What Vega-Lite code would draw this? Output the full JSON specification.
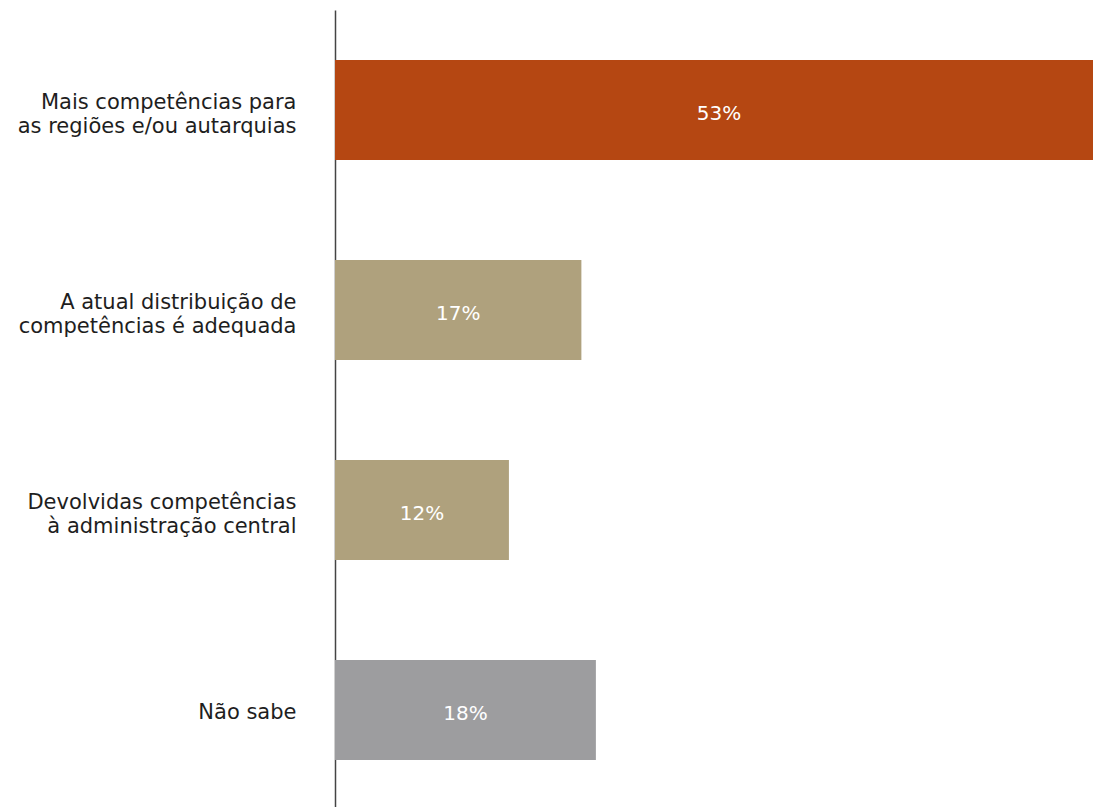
{
  "$schema": "https://vega.github.io/schema/vega-lite/v6.json",
  "autosize": "none",
  "padding": {"left": 335, "top": 10, "right": 0, "bottom": 0},
  "width": 758,
  "height": 800,
  "background": "white",
  "config": {"view": {"stroke": null}, "font": "DejaVu Sans"},
  "data": {
    "values": [
      {"cat": "Mais competências para|as regiões e/ou autarquias", "value": 0.53, "group": "a"},
      {"cat": "A atual distribuição de|competências é adequada", "value": 0.17, "group": "b"},
      {"cat": "Devolvidas competências|à administração central", "value": 0.12, "group": "b"},
      {"cat": "Não sabe", "value": 0.18, "group": "c"}
    ]
  },
  "encoding": {
    "y": {
      "field": "cat", "type": "nominal", "sort": null,
      "scale": {"paddingInner": 0.5, "paddingOuter": 0.25},
      "axis": {
        "title": null, "ticks": false, "labelExpr": "split(datum.label, '|')",
        "labelFontSize": 21, "labelColor": "#1e1e1e", "labelPadding": 39,
        "labelLineHeight": 24, "labelLimit": 400,
        "labelOffset": {"condition": {"test": "datum.value == 'Não sabe'", "value": 3}, "value": -7},
        "domainColor": "#444444", "domainWidth": 1.5
      }
    }
  },
  "layer": [
    {
      "mark": {"type": "bar", "clip": true},
      "encoding": {
        "x": {"field": "value", "type": "quantitative", "scale": {"domain": [0, 0.523], "nice": false}, "axis": null},
        "color": {"field": "group", "type": "nominal", "legend": null,
          "scale": {"domain": ["a", "b", "c"], "range": ["#B54712", "#AFA17D", "#9D9D9F"]}}
      }
    },
    {
      "transform": [{"calculate": "datum.value / 2", "as": "mid"}],
      "mark": {"type": "text", "color": "white", "fontSize": 20, "align": "center", "baseline": "middle", "dy": 4},
      "encoding": {
        "x": {"field": "mid", "type": "quantitative", "scale": {"domain": [0, 0.523], "nice": false}},
        "text": {"field": "value", "type": "quantitative", "format": ".0%"}
      }
    }
  ]
}
